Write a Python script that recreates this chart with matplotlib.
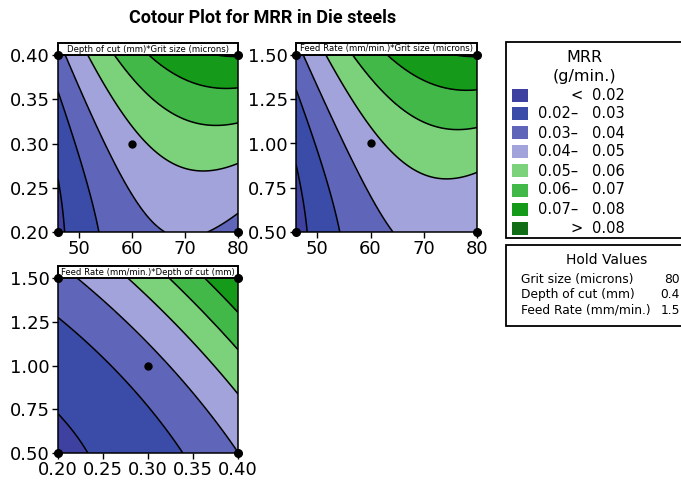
import numpy as np
import matplotlib
matplotlib.use("Agg")
import matplotlib.pyplot as plt
from matplotlib.patches import Rectangle

# ---- response-surface model for MRR (coded units) ----
factor_names = ["Grit size (microns)", "Depth of cut (mm)", "Feed Rate (mm/min.)"]
factor_low = [46, 0.2, 0.5]
factor_high = [80, 0.4, 1.5]
coding_center = [63, 0.3, 1.0]
coding_halfwidth = [17, 0.1, 0.5]
intercept = 0.0365
coef_linear = [0.0108, 0.0100, 0.0097]        # G, D, F
coef_square = [-0.0113, 0.0040, 0.0040]       # G^2, D^2, F^2
coef_interact = [0.0062, 0.0050, 0.0056]      # G*D, G*F, D*F
hold_values = [80, 0.4, 1.5]
hold_labels = ["80", "0.4", "1.5"]
design_center = [60, 0.3, 1.0]

# ---- contour classes ----
contour_levels = [0.02, 0.03, 0.04, 0.05, 0.06, 0.07, 0.08]
class_colors = ["#3F41A0", "#3A4CA8", "#5F65B8", "#A3A3DC",
                "#7BD27B", "#41B848", "#169A1A", "#116E16"]
legend_left = ["", "0.02–", "0.03–", "0.04–", "0.05–", "0.06–", "0.07–", ""]
legend_sign = ["<", "", "", "", "", "", "", ">"]
legend_right = ["0.02", "0.03", "0.04", "0.05", "0.06", "0.07", "0.08", "0.08"]

# ---- panel definitions: (x factor, y factor, ticks) ----
grit_ticks = [50, 60, 70, 80]
depth_ticks = [0.20, 0.25, 0.30, 0.35, 0.40]
feed_ticks = [0.50, 0.75, 1.00, 1.25, 1.50]
panel_titles = ["Depth of cut (mm)*Grit size (microns)",
                "Feed Rate (mm/min.)*Grit size (microns)",
                "Feed Rate (mm/min.)*Depth of cut (mm)"]
panel_factors = [(0, 1), (0, 2), (1, 2)]
panel_xticks = [grit_ticks, grit_ticks, depth_ticks]
panel_yticks = [depth_ticks, feed_ticks, feed_ticks]
panel_xfmt = ["{:.0f}", "{:.0f}", "{:.2f}"]


def mrr(g, d, f):
    x = [(v - c) / h for v, c, h in zip((g, d, f), coding_center, coding_halfwidth)]
    y = intercept
    for i in range(3):
        y = y + coef_linear[i] * x[i] + coef_square[i] * x[i] ** 2
    y = y + coef_interact[0] * x[0] * x[1] + coef_interact[1] * x[0] * x[2] \
        + coef_interact[2] * x[1] * x[2]
    return y


W, H = 681, 490
fig = plt.figure(figsize=(W / 100, H / 100), dpi=100)
plt.rcParams["font.family"] = ["DejaVu Sans"]


def fx(px):
    return px / W


def fy(py):
    return 1 - py / H


# axes boxes in pixels: left, top, right, bottom
panel_boxes = [(58, 55, 238, 232), (296, 55, 477, 232), (58, 278, 238, 453)]

bounds = [-1.0] + contour_levels + [1.0]

for k in range(3):
    l, t, r, b = panel_boxes[k]
    ax = fig.add_axes([fx(l), fy(b), fx(r - l), (b - t) / H])
    xi, yi = panel_factors[k]
    xs = np.linspace(factor_low[xi], factor_high[xi], 300)
    ys = np.linspace(factor_low[yi], factor_high[yi], 300)
    XX, YY = np.meshgrid(xs, ys)
    args = list(hold_values)
    args[xi] = XX
    args[yi] = YY
    Z = mrr(*args)
    ax.contourf(XX, YY, Z, levels=bounds, colors=class_colors)
    ax.contour(XX, YY, Z, levels=contour_levels, colors="black", linewidths=1.1)
    ax.set_xlim(factor_low[xi], factor_high[xi])
    ax.set_ylim(factor_low[yi], factor_high[yi])
    ax.set_xticks(panel_xticks[k])
    ax.set_xticklabels([panel_xfmt[k].format(v) for v in panel_xticks[k]])
    ax.set_yticks(panel_yticks[k])
    ax.set_yticklabels(["{:.2f}".format(v) for v in panel_yticks[k]])
    ax.tick_params(direction="out", length=4.5, width=1, labelsize=13,
                   pad=1.5, colors="black")
    for s in ax.spines.values():
        s.set_linewidth(1.1)
    # design centre point
    ax.plot(design_center[xi], design_center[yi], "o", color="black", ms=5)
    # corner markers
    cx = [factor_low[xi], factor_high[xi], factor_low[xi], factor_high[xi]]
    cy = [factor_low[yi], factor_low[yi], factor_high[yi], factor_high[yi]]
    ax.plot(cx, cy, "o", color="black", ms=5.5, clip_on=False, zorder=5)
    # panel title strip
    hbox = 12 / (b - t)
    ax.add_patch(Rectangle((0, 1), 1, hbox, transform=ax.transAxes,
                           facecolor="white", edgecolor="black", lw=1.4,
                           clip_on=False, zorder=4))
    ax.text(0.5, 1 + hbox / 2, panel_titles[k], transform=ax.transAxes,
            ha="center", va="center", fontsize=6.1, zorder=6)

fig.text(fx(263), fy(18), "Cotour Plot for MRR in Die steels",
         ha="center", va="center", fontsize=13, fontweight="bold",
         family="Roboto")

# ---- contour legend ----
fig.patches.append(Rectangle((fx(506), fy(238)), fx(200), (238 - 42) / H,
                             transform=fig.transFigure, facecolor="white",
                             edgecolor="black", lw=1.3))
fig.text(fx(584), fy(57), "MRR", ha="center", va="center", fontsize=11.5)
fig.text(fx(584), fy(77), "(g/min.)", ha="center", va="center", fontsize=11.5)
for i in range(len(class_colors)):
    yc = 95 + 19 * i
    fig.patches.append(Rectangle((fx(512), fy(yc + 6.5)), fx(16), 13 / H,
                                 transform=fig.transFigure,
                                 facecolor=class_colors[i], edgecolor="none"))
    if legend_left[i]:
        fig.text(fx(538), fy(yc), legend_left[i], ha="left", va="center",
                 fontsize=10.5)
    if legend_sign[i]:
        fig.text(fx(583), fy(yc), legend_sign[i], ha="right", va="center",
                 fontsize=10.5)
    fig.text(fx(592), fy(yc), legend_right[i], ha="left", va="center",
             fontsize=10.5)

# ---- hold values box ----
fig.patches.append(Rectangle((fx(506), fy(326)), fx(200), (326 - 245) / H,
                             transform=fig.transFigure, facecolor="white",
                             edgecolor="black", lw=1.3))
fig.text(fx(607), fy(260), "Hold Values", ha="center", va="center",
         fontsize=10)
for i in range(3):
    yc = 279 + 15.5 * i
    fig.text(fx(521), fy(yc), factor_names[i], ha="left", va="center",
             fontsize=8.8)
    fig.text(fx(680), fy(yc), hold_labels[i], ha="right", va="center",
             fontsize=8.8)

fig.savefig("out.png", dpi=100)
